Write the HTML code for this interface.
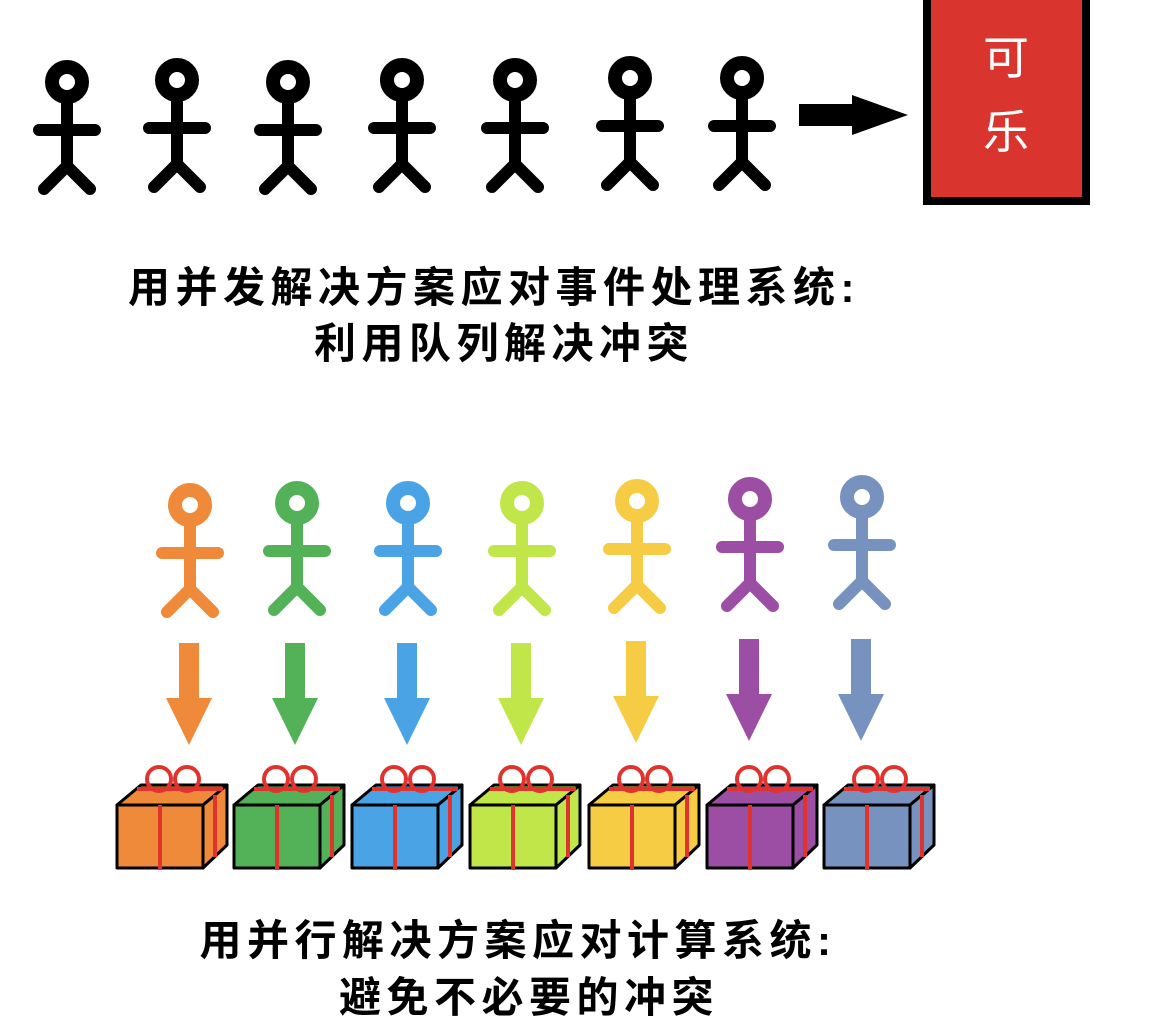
<!DOCTYPE html>
<html><head><meta charset="utf-8"><style>
body{margin:0;background:#fff;width:1172px;height:1036px;overflow:hidden}
svg{display:block}
</style></head><body>
<svg width="1172" height="1036" viewBox="0 0 1172 1036" xmlns="http://www.w3.org/2000/svg">
<defs>
<g id="fig" fill="none" stroke-width="12" stroke-linecap="round" stroke-linejoin="round">
<circle cx="0" cy="0" r="15" stroke-width="14"/>
<line x1="0" y1="15" x2="0" y2="86"/>
<line x1="-28" y1="48" x2="28" y2="48"/>
<polyline points="-23,107 0,84 23,107"/>
</g>
</defs>
<g stroke="#000">
<use href="#fig" x="67" y="82"/>
<use href="#fig" x="177" y="80"/>
<use href="#fig" x="288" y="82"/>
<use href="#fig" x="402" y="80"/>
<use href="#fig" x="515" y="80"/>
<use href="#fig" x="630" y="78"/>
<use href="#fig" x="742" y="78"/>
</g>
<rect x="799" y="104" width="56" height="22" fill="#000"/>
<polygon points="852,95 908,115 852,135" fill="#000"/>
<rect x="927" y="-4" width="159" height="205" fill="#d9342e" stroke="#000" stroke-width="8"/>
<text x="1006" y="74" fill="#fff" font-size="46" text-anchor="middle" font-family="Liberation Sans,Noto Sans CJK SC,sans-serif">可</text>
<text x="1006" y="148" fill="#fff" font-size="46" text-anchor="middle" font-family="Liberation Sans,Noto Sans CJK SC,sans-serif">乐</text>
<g font-family="Liberation Sans,Noto Sans CJK SC,sans-serif" font-size="42" font-weight="bold" letter-spacing="5.5" text-anchor="middle" fill="#000">
<text x="494" y="302">用并发解决方案应对事件处理系统:</text>
<text x="504" y="358">利用队列解决冲突</text>
<text x="518" y="955">用并行解决方案应对计算系统:</text>
<text x="529" y="1012">避免不必要的冲突</text>
</g>
<g>
<use href="#fig" x="190" y="505" stroke="#ef8a3a"/>
<use href="#fig" x="297" y="503" stroke="#53b257"/>
<use href="#fig" x="408" y="503" stroke="#4aa3e4"/>
<use href="#fig" x="522" y="503" stroke="#c0e64a"/>
<use href="#fig" x="637" y="501" stroke="#f7cc45"/>
<use href="#fig" x="750" y="499" stroke="#9b4ea3"/>
<use href="#fig" x="862" y="497" stroke="#7792be"/>
</g>
<g>
<path d="M179,643h20v55h13l-23,47l-23,-47h13z" fill="#ef8a3a"/>
<path d="M285,643h20v55h13l-23,47l-23,-47h13z" fill="#53b257"/>
<path d="M397,643h20v55h13l-23,47l-23,-47h13z" fill="#4aa3e4"/>
<path d="M511,643h20v55h13l-23,47l-23,-47h13z" fill="#c0e64a"/>
<path d="M626,641h20v55h13l-23,47l-23,-47h13z" fill="#f7cc45"/>
<path d="M739,639h20v55h13l-23,47l-23,-47h13z" fill="#9b4ea3"/>
<path d="M851,639h20v55h13l-23,47l-23,-47h13z" fill="#7792be"/>
</g>
<defs>
<g id="gift" stroke-linejoin="round">
<polygon points="0,20 86,20 110,0 24,0" stroke="#000" stroke-width="3"/>
<polygon points="86,20 110,0 110,60 86,83" stroke="#000" stroke-width="3"/>
<rect x="0" y="20" width="86" height="63" stroke="#000" stroke-width="3"/>
<g fill="none" stroke="#e0332d" stroke-width="4">
<line x1="43" y1="20" x2="43" y2="85"/>
<line x1="98" y1="10" x2="98" y2="72"/>
<line x1="20" y1="4" x2="106" y2="4"/>
<circle cx="42" cy="-6" r="12"/>
<circle cx="70" cy="-6" r="12"/>
</g>
</g>
</defs>
<use href="#gift" x="117" y="785" fill="#ef8a3a"/>
<use href="#gift" x="234" y="785" fill="#53b257"/>
<use href="#gift" x="352" y="785" fill="#4aa3e4"/>
<use href="#gift" x="470" y="785" fill="#c0e64a"/>
<use href="#gift" x="589" y="785" fill="#f7cc45"/>
<use href="#gift" x="707" y="785" fill="#9b4ea3"/>
<use href="#gift" x="824" y="785" fill="#7792be"/>
</svg>
</body></html>
